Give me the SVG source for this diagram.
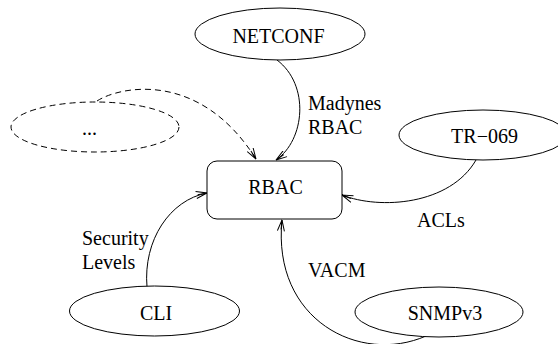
<svg xmlns="http://www.w3.org/2000/svg" width="558" height="344" viewBox="0 0 558 344">
<defs>
<style>
.n{fill:#fff;stroke:#000;stroke-width:1}
.d{fill:none;stroke:#000;stroke-width:1;stroke-dasharray:6 4}
text{font-family:'Liberation Serif','DejaVu Serif','Times New Roman',Times,serif;font-size:20px;fill:#000}
.c{fill:none;stroke:#000;stroke-width:1}
</style>
<marker id="ah" viewBox="0 0 12 8" refX="11.5" refY="4" markerWidth="12" markerHeight="8" markerUnits="userSpaceOnUse" orient="auto">
<path d="M0.5,0.5 L11.5,4 L0.5,7.5 M2,4 L11.5,4" fill="none" stroke="#000" stroke-width="1"/>
</marker>
</defs>
<rect width="558" height="344" fill="#fff"/>
<g id="connectors">
<path class="d" d="M97,101 C120,86 200,70 256,159" marker-end="url(#ah)"/>
<path class="c" d="M277,60 C310,85 305,140 276,160" marker-end="url(#ah)"/>
<path class="c" d="M476,160 C450,205 380,210 342,195" marker-end="url(#ah)"/>
<path class="c" d="M147,287 C143,240 170,200 207,193" marker-end="url(#ah)"/>
<path class="c" d="M426,336 C360,365 272,320 282,220" marker-end="url(#ah)"/>
<text x="308" y="110" font-family="Liberation Serif, serif">Madynes</text>
<text x="308" y="134" font-family="Liberation Serif, serif">RBAC</text>
<text x="417" y="227" font-family="Liberation Serif, serif">ACLs</text>
<text x="308" y="277" font-family="Liberation Serif, serif">VACM</text>
<text x="82" y="245" font-family="Liberation Serif, serif">Security</text>
<text x="82" y="269" font-family="Liberation Serif, serif">Levels</text>
</g>
<g id="netconf">
<ellipse class="n" cx="280" cy="34" rx="85" ry="26"/>
<text x="278.5" y="43" text-anchor="middle">NETCONF</text>
</g>
<g id="other">
<ellipse class="d" cx="95" cy="127" rx="84" ry="25"/>
<text x="82" y="135">...</text>
</g>
<g id="rbac">
<rect class="n" x="207" y="161" width="135" height="58" rx="10"/>
<text x="275.5" y="194" text-anchor="middle">RBAC</text>
</g>
<g id="tr069">
<ellipse class="n" cx="483" cy="135" rx="84" ry="25"/>
<text x="484.5" y="143" text-anchor="middle">TR−069</text>
</g>
<g id="cli">
<ellipse class="n" cx="154.5" cy="311" rx="85" ry="25"/>
<text x="156" y="320" text-anchor="middle">CLI</text>
</g>
<g id="snmpv3">
<ellipse class="n" cx="439" cy="312" rx="84" ry="25"/>
<text x="445" y="320" text-anchor="middle">SNMPv3</text>
</g>
</svg>
